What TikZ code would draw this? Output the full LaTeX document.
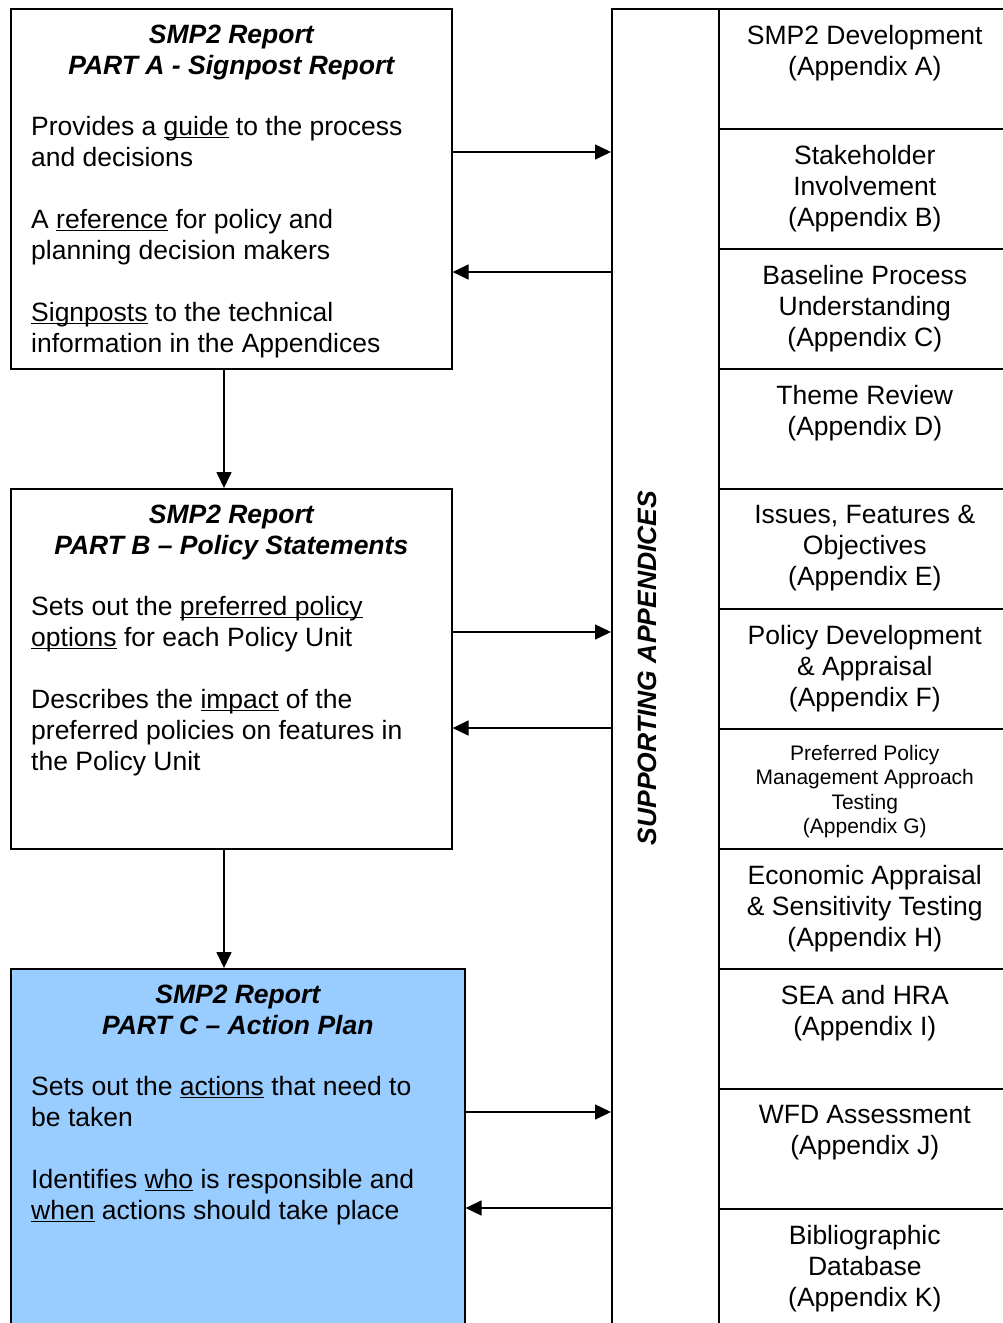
\documentclass[tikz,border=0pt]{standalone}
\usepackage{fontspec}
\setmainfont{Liberation Sans}
\usetikzlibrary{arrows.meta,calc,positioning}
\definecolor{partblue}{HTML}{99CCFF}
\newcommand{\ul}[1]{\underline{\smash{#1}}}
\tikzstyle{box}=[draw,line width=1.6pt,anchor=north west,inner sep=0pt]
\tikzstyle{part}=[box,minimum width=441pt,minimum height=360pt]
\tikzstyle{cell}=[box,minimum width=292pt,minimum height=120pt]
\tikzstyle{title}=[anchor=north,inner sep=0pt,align=center,
               font=\fontsize{26.5}{31}\selectfont\bfseries\itshape]
\tikzstyle{body}=[anchor=north west,inner sep=0pt,align=left,
               font=\fontsize{26.5}{31}\selectfont]
\tikzstyle{app}=[anchor=north,inner sep=0pt,align=center,
               font=\fontsize{26.5}{31}\selectfont]
\tikzstyle{appsmall}=[anchor=north,inner sep=0pt,align=center,
               font=\fontsize{21}{24.5}\selectfont]
\tikzstyle{flow}=[line width=1.6pt,-{Triangle[length=16pt,width=15pt]}]

\begin{document}
\begin{tikzpicture}[x=1pt,y=-1pt]

\clip (0,0) rectangle (1003,1323);

% % % % % % % % % % % % % % %
% report parts

\node[part] (partA) at (10,8) {};
\node[title] (titleA) at ($(partA.north)+(0,17)$) {SMP2 Report\\PART A - Signpost Report};
\node[body] (bodyA) at ($(partA.north west)+(21,108)$)
  {Provides a \ul{guide} to the process\\and decisions\\[31pt]
   A \ul{reference} for policy and\\planning decision makers\\[31pt]
   \ul{Signposts} to the technical\\information in the Appendices};

\node[part] (partB) at (10,488) {};
\node[title] (titleB) at ($(partB.north)+(0,17)$) {SMP2 Report\\PART B -- Policy Statements};
\node[body] (bodyB) at ($(partB.north west)+(21,108)$)
  {Sets out the \ul{preferred policy}\\\ul{options} for each Policy Unit\\[31pt]
   Describes the \ul{impact} of the\\preferred policies on features in\\the Policy Unit};

\node[part,fill=partblue,minimum width=454pt,minimum height=370pt] (partC) at (10,968) {};
\node[title] (titleC) at ($(partC.north)+(0,17)$) {SMP2 Report\\PART C -- Action Plan};
\node[body] (bodyC) at ($(partC.north west)+(21,108)$)
  {Sets out the \ul{actions} that need to\\be taken\\[31pt]
   Identifies \ul{who} is responsible and\\\ul{when} actions should take place};

% % % % % % % % % % % % % % %
% appendices

\node[box,minimum width=107pt,minimum height=1330pt] (supp) at (611,8) {};
\node[rotate=90,inner sep=0pt,font=\fontsize{26.5}{31}\selectfont\bfseries\itshape]
  (supplabel) at (647,668) {SUPPORTING APPENDICES};

\foreach \i/\st/\txt in {
  0/app/{SMP2 Development\\(Appendix A)},
  1/app/{Stakeholder\\Involvement\\(Appendix B)},
  2/app/{Baseline Process\\Understanding\\(Appendix C)},
  3/app/{Theme Review\\(Appendix D)},
  4/app/{Issues, Features \&\\Objectives\\(Appendix E)},
  5/app/{Policy Development\\\& Appraisal\\(Appendix F)},
  6/appsmall/{Preferred Policy\\Management Approach\\Testing\\(Appendix G)},
  7/app/{Economic Appraisal\\\& Sensitivity Testing\\(Appendix H)},
  8/app/{SEA and HRA\\(Appendix I)},
  9/app/{WFD Assessment\\(Appendix J)},
  10/app/{Bibliographic\\Database\\(Appendix K)}} {
\node[cell] (cell\i) at (718,8+120*\i) {};
\node[\st] (celltext\i) at ($(cell\i.north)+(0,17)$) {\txt};
}

% % % % % % % % % % % % % % %
% connectors

\draw[flow] ($(partA.south west)+(214,0)$) -- ($(partB.north west)+(214,0)$);
\draw[flow] ($(partB.south west)+(214,0)$) -- ($(partC.north west)+(214,0)$);

\draw[flow] ($(partA.north east)+(0,144)$) -- ($(supp.north west)+(0,144)$);
\draw[flow] ($(supp.north west)+(0,264)$) -- ($(partA.north east)+(0,264)$);
\draw[flow] ($(partB.north east)+(0,144)$) -- ($(supp.north west)+(0,624)$);
\draw[flow] ($(supp.north west)+(0,720)$) -- ($(partB.north east)+(0,240)$);
\draw[flow] ($(partC.north east)+(0,144)$) -- ($(supp.north west)+(0,1104)$);
\draw[flow] ($(supp.north west)+(0,1200)$) -- ($(partC.north east)+(0,240)$);

\end{tikzpicture}
\end{document}
